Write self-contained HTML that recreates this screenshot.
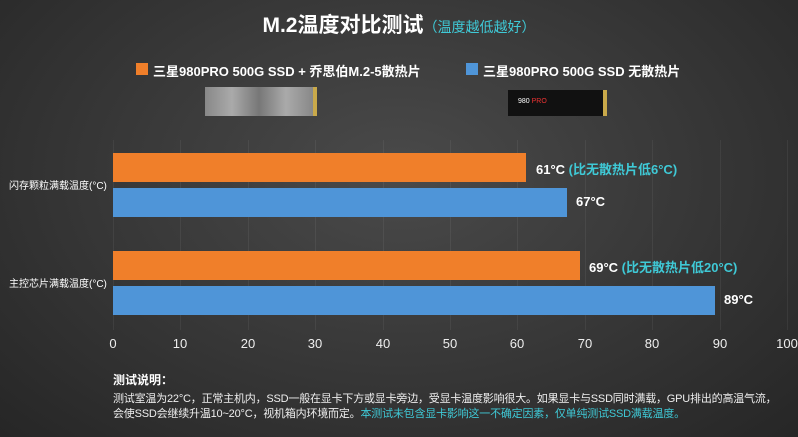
<!DOCTYPE html>
<html><head><meta charset="utf-8"><style>
*{margin:0;padding:0}
body{width:798px;height:437px;overflow:hidden;background:radial-gradient(ellipse at 50% 40%,#4a4a4a 0%,#383838 50%,#262626 100%);font-family:"Liberation Sans","Noto Sans CJK SC",sans-serif;color:#fff;position:relative}
.a{position:absolute;white-space:nowrap}
.bar{position:absolute;left:113px;height:29px}
.o{background:#f07f2a}.b{background:#4f95d8}
.g{position:absolute;top:140px;width:1px;height:190px;background:rgba(255,255,255,0.06)}
.t{position:absolute;top:336px;font-size:13px;color:#eee;transform:translateX(-50%)}
.v{position:absolute;font-size:13px;font-weight:bold}
.c{color:#3fc9d6}
</style></head><body>
<div class="a" style="left:0;width:798px;text-align:center;top:9px;font-size:21px;font-weight:bold">M.2温度对比测试<span style="font-size:14px;font-weight:normal;color:#3fc9d6">（温度越低越好）</span></div>
<div class="a" style="left:136px;top:63px;width:12px;height:12px;background:#f07f2a"></div>
<div class="a" style="left:153px;top:61px;font-size:13px;font-weight:bold">三星980PRO 500G SSD + 乔思伯M.2-5散热片</div>
<div class="a" style="left:466px;top:63px;width:12px;height:12px;background:#4f95d8"></div>
<div class="a" style="left:483px;top:61px;font-size:13px;font-weight:bold">三星980PRO 500G SSD 无散热片</div>
<div class="a" style="left:205px;top:87px;width:108px;height:29px;background:linear-gradient(90deg,#888,#aaa,#777,#aaa,#888);border-right:4px solid #c9a94a"></div>
<div class="a" style="left:508px;top:90px;width:95px;height:26px;background:#111;border-right:4px solid #c9a94a"></div>
<div class="a" style="left:518px;top:98px;font-size:7px;color:#fff">980 <span style="color:#e33">PRO</span></div>
<div class="g" style="left:113px"></div><div class="g" style="left:180px"></div><div class="g" style="left:248px"></div><div class="g" style="left:315px"></div><div class="g" style="left:383px"></div><div class="g" style="left:450px"></div><div class="g" style="left:517px"></div><div class="g" style="left:585px"></div><div class="g" style="left:652px"></div><div class="g" style="left:720px"></div><div class="g" style="left:787px"></div>
<div class="a" style="left:9px;top:177px;font-size:10px">闪存颗粒满载温度(°C)</div>
<div class="a" style="left:9px;top:275px;font-size:10px">主控芯片满载温度(°C)</div>
<div class="bar o" style="top:153px;width:413px"></div>
<div class="bar b" style="top:188px;width:454px"></div>
<div class="bar o" style="top:251px;width:467px"></div>
<div class="bar b" style="top:286px;width:602px"></div>
<div class="v" style="left:536px;top:159px">61°C <span class="c">(比无散热片低6°C)</span></div>
<div class="v" style="left:576px;top:194px">67°C</div>
<div class="v" style="left:589px;top:257px">69°C <span class="c">(比无散热片低20°C)</span></div>
<div class="v" style="left:724px;top:292px">89°C</div>
<div class="t" style="left:113px">0</div><div class="t" style="left:180px">10</div><div class="t" style="left:248px">20</div><div class="t" style="left:315px">30</div><div class="t" style="left:383px">40</div><div class="t" style="left:450px">50</div><div class="t" style="left:517px">60</div><div class="t" style="left:585px">70</div><div class="t" style="left:652px">80</div><div class="t" style="left:720px">90</div><div class="t" style="left:787px">100</div>
<div class="a" style="left:113px;top:371px;font-size:12px;font-weight:bold">测试说明：</div>
<div class="a" style="left:113px;top:392px;font-size:11px;letter-spacing:-0.2px;color:#eee;line-height:15px">测试室温为22°C，正常主机内，SSD一般在显卡下方或显卡旁边，受显卡温度影响很大。如果显卡与SSD同时满载，GPU排出的高温气流，<br>会使SSD会继续升温10~20°C，视机箱内环境而定。<span class="c">本测试未包含显卡影响这一不确定因素，仅单纯测试SSD满载温度。</span></div>
</body></html>
